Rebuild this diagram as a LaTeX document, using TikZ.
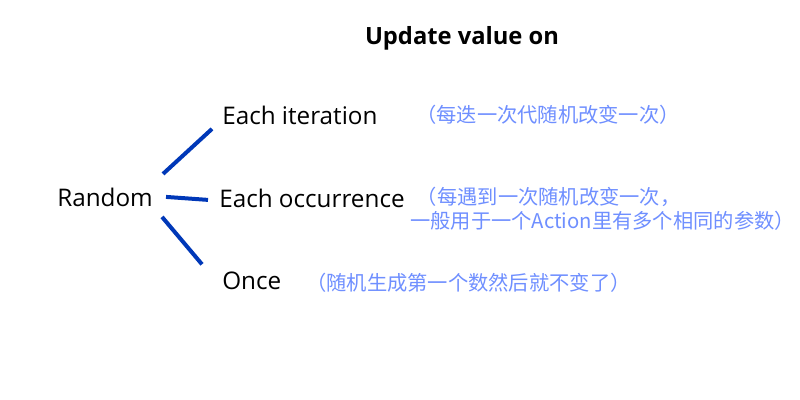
\documentclass[tikz,border=0pt]{standalone}
\usepackage{fontspec}
\setmainfont{Open Sans}
\newfontfamily\cjkfont{Noto Sans CJK SC}
\usetikzlibrary{calc}
\definecolor{branchblue}{HTML}{0038B8}
\definecolor{noteblue}{HTML}{6F8FFF}
\tikzset{
  choice/.style={anchor=base west,inner sep=0pt,font=\fontsize{18.2}{21}\selectfont},
  note/.style={anchor=west,inner sep=0pt,text=noteblue,font=\cjkfont\fontsize{15.2}{18}\selectfont},
  branch/.style={draw=branchblue,line width=3pt}
}
\begin{document}
\begin{tikzpicture}[x=0.75pt,y=-0.75pt]
  \useasboundingbox[fill=white] (0,0) rectangle (800,400);
  \node[anchor=base,inner sep=0pt,font=\bfseries\fontsize{17.8}{20}\selectfont] (title) at (462,44) {Update value on};
  % root and the three update modes
  \node[choice] (random) at (57,206) {Random};
  \node[choice] (iter) at (222,124) {Each iteration};
  \node[choice] (occur) at (219,207) {Each occurrence};
  \node[choice] (once) at (222,289) {Once};
  % remarks
  \node[note] (iternote) at (416,115) {（每迭一次代随机改变一次）};
  \node[note,align=left] (occurnote) at (410,209) {\hspace*{5pt}（每遇到一次随机改变一次，\\一般用于一个Action里有多个相同的参数）};
  \node[note] (oncenote) at (306,283) {（随机生成第一个数然后就不变了）};
  % branches
  \draw[branch] ($(random.east)+(10,-23)$) -- ($(iter.west)+(-10,14)$);
  \draw[branch] ($(random.east)+(13,0)$) -- ($(occur.west)+(-11,2)$);
  \draw[branch] ($(random.east)+(9,20)$) -- ($(once.west)+(-20,-16)$);
\end{tikzpicture}
\end{document}
